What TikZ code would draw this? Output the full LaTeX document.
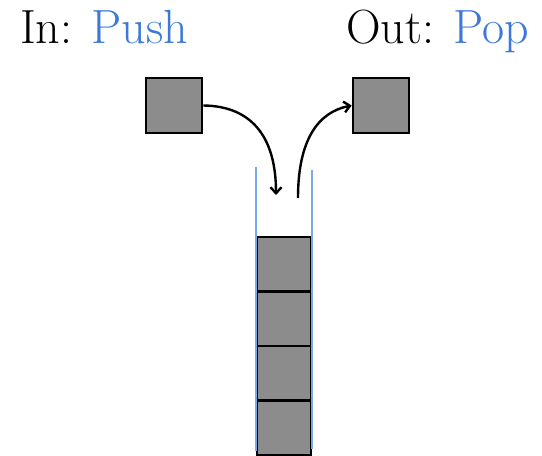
\documentclass[tikz,border=0pt]{standalone}
\usepackage{fontspec}
\usetikzlibrary{arrows.meta}
\definecolor{opblue}{RGB}{60,120,216}
\definecolor{wallblue}{RGB}{120,170,235}
\definecolor{cellgray}{RGB}{140,140,140}
\tikzset{
  x=1pt, y=-1pt,
  cell/.style={draw=black, line width=2.6pt, fill=cellgray, minimum width=54pt, minimum height=54.5pt, inner sep=0pt, outer sep=0pt},
  item/.style={draw=black, line width=2.6pt, fill=cellgray, minimum width=56pt, minimum height=55pt, inner sep=0pt},
  wall/.style={draw=wallblue, line width=2.8pt},
  move/.style={draw=black, line width=2.4pt, -{Straight Barb[length=6pt,width=11pt,line width=2.4pt]}},
  title/.style={font=\fontsize{48}{54}\selectfont, inner sep=0pt, anchor=base west}
}
\begin{document}
\begin{tikzpicture}
\useasboundingbox (0,0) rectangle (542,456);
% labels
\node[title] (inlbl) at (20,43) {In: \textcolor{opblue}{Push}};
\node[title] (outlbl) at (346,43) {Out: \textcolor{opblue}{Pop}};
% items entering and leaving
\node[item] (pushed) at (174,105.5) {};
\node[item] (popped) at (381,105.5) {};
% stack contents
\node[cell] (c1) at (284,264.25) {};
\node[cell] (c2) at (284,318.75) {};
\node[cell] (c3) at (284,373.25) {};
\node[cell] (c4) at (284,427.75) {};
% stack walls
\coordinate (lwt) at (256,167);
\coordinate (lwb) at (256,451);
\coordinate (rwt) at (312,170);
\coordinate (rwb) at (312,449);
\draw[wall] (lwt) -- (lwb);
\draw[wall] (rwt) -- (rwb);
% push and pop arrows
\coordinate (pushend) at (276,195);
\coordinate (popstart) at (298,198);
\draw[move] (pushed.east) .. controls (250,106) and (276,135) .. (pushend);
\draw[move] (popstart) .. controls (298,140) and (318,112) .. (popped.west);
\end{tikzpicture}
\end{document}
